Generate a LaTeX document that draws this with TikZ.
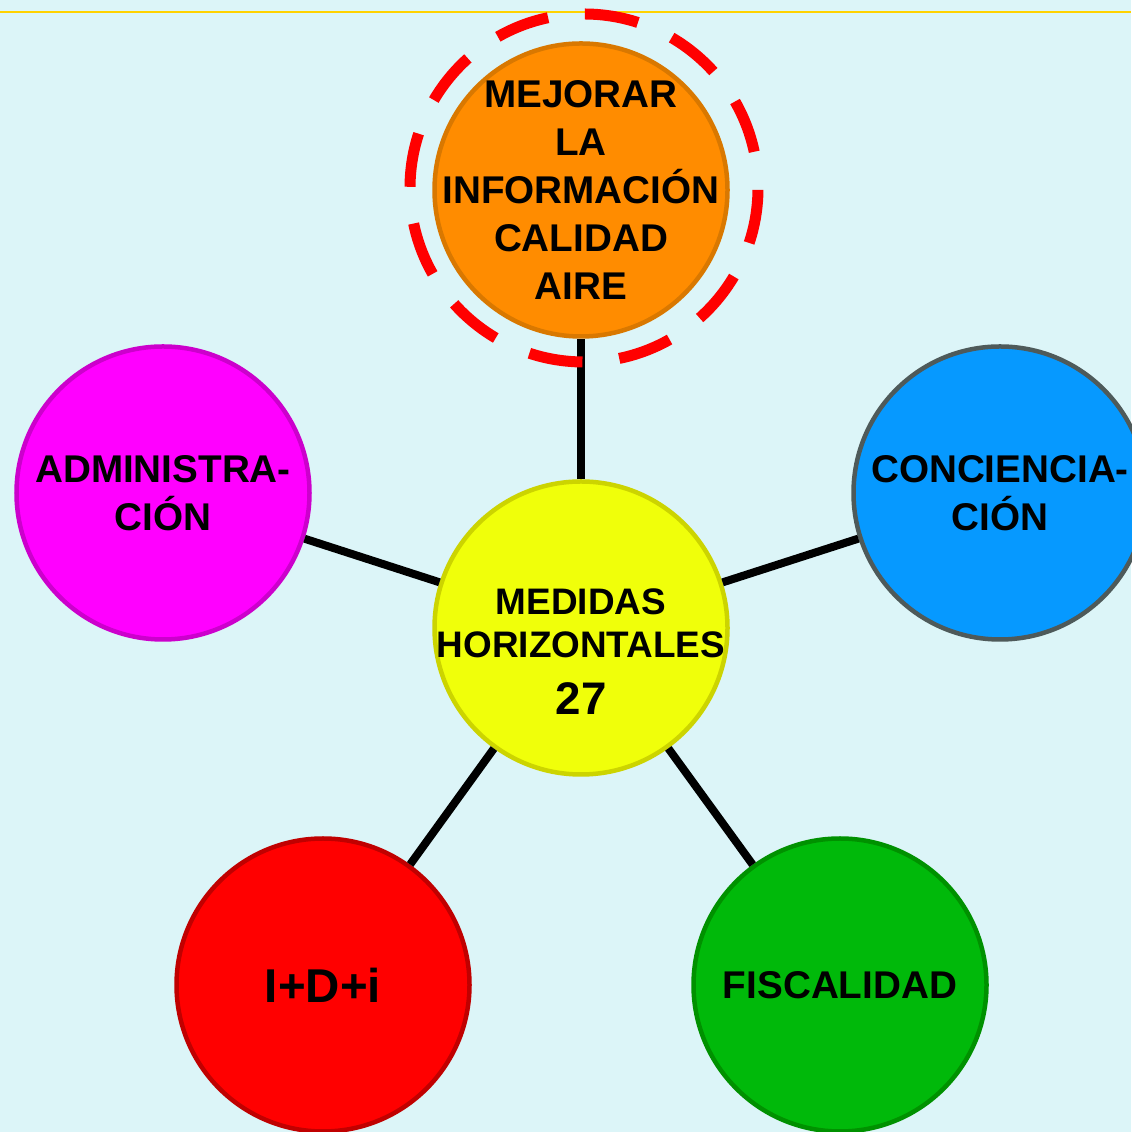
\documentclass[tikz,border=0pt]{standalone}
\usepackage{fontspec}
\setmainfont{Liberation Sans}
\usepackage{tikz}

\definecolor{fondo}{RGB}{220,245,248}
\definecolor{raya}{RGB}{255,210,0}
\definecolor{naranja}{RGB}{255,140,0}
\definecolor{naranjaborde}{RGB}{217,120,0}
\definecolor{amarillo}{RGB}{240,255,10}
\definecolor{amarilloborde}{RGB}{204,212,0}
\definecolor{magenta}{RGB}{255,0,255}
\definecolor{magentaborde}{RGB}{204,0,204}
\definecolor{azul}{RGB}{6,153,255}
\definecolor{azulborde}{RGB}{78,90,90}
\definecolor{rojo}{RGB}{255,0,0}
\definecolor{rojoborde}{RGB}{192,0,0}
\definecolor{verde}{RGB}{0,185,10}
\definecolor{verdeborde}{RGB}{0,145,0}

\begin{document}
\begin{tikzpicture}[
    burbuja/.style={circle, minimum size=5.86cm, inner sep=0pt, line width=0.09cm, align=center,
        font=\bfseries\fontsize{22}{27.3}\selectfont},
    texto/.style={align=center, inner sep=0pt, font=\bfseries\fontsize{22}{27.3}\selectfont},
    enlace/.style={line width=0.16cm, black}
]
    % Fondo
    \fill[fondo] (0,0) rectangle (22.62,22.64);
    \useasboundingbox (0,0) rectangle (22.62,22.64);
    \draw[raya, line width=0.05cm] (0,22.40) -- (22.62,22.40);

    % Circulos
    \node[burbuja, fill=amarillo, draw=amarilloborde] (medidas) at (11.62,10.08) {};
    \node[burbuja, fill=naranja, draw=naranjaborde] (mejorar) at (11.62,18.84) {};
    \node[burbuja, fill=magenta, draw=magentaborde] (admin) at (3.26,12.78) {ADMINISTRA-\\CIÓN};
    \node[burbuja, fill=azul, draw=azulborde] (conciencia) at (20.00,12.78) {CONCIENCIA-\\CIÓN};
    \node[burbuja, fill=rojo, draw=rojoborde, font=\bfseries\fontsize{27}{32}\selectfont] (idi) at (6.46,2.94) {I+D+i};
    \node[burbuja, fill=verde, draw=verdeborde] (fiscal) at (16.80,2.94) {FISCALIDAD};

    % Textos
    \node[texto] (mejorartxt) at (mejorar) {MEJORAR\\LA\\INFORMACIÓN\\CALIDAD\\AIRE};
    \node[texto, font=\bfseries\fontsize{21}{24.5}\selectfont] (medidastxt) at (11.62,9.61)
        {MEDIDAS\\HORIZONTALES\\[7.9pt]{\fontsize{26}{30}\selectfont 27}};

    % Enlaces
    \draw[enlace] (medidas) -- (mejorar);
    \draw[enlace] (medidas) -- (admin);
    \draw[enlace] (medidas) -- (conciencia);
    \draw[enlace] (medidas) -- (idi);
    \draw[enlace] (medidas) -- (fiscal);

    % Anillo discontinuo
    \draw[rojo, line width=0.22cm, dash pattern=on 1.08cm off 0.74cm, dash phase=1.09cm]
        (mejorar.center) ++(0.06,0.04) circle (3.48);
\end{tikzpicture}
\end{document}
